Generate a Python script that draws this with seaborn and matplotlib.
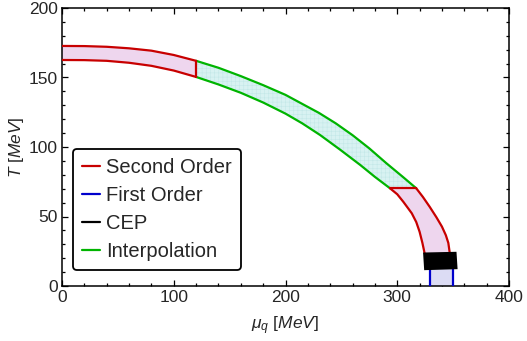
import numpy as np
import pandas as pd
import matplotlib
matplotlib.use('Agg')
import matplotlib.pyplot as plt
import seaborn as sns
from matplotlib.ticker import MultipleLocator

# boundary curves (mu_q, T) in MeV
so_upper_mu = [0, 20, 40, 60, 80, 100, 120]
so_upper_T = [172.7, 172.6, 172.1, 171.0, 169.3, 166.2, 162.0]
so_lower_mu = [0, 20, 40, 60, 80, 100, 120]
so_lower_T = [162.6, 162.5, 162.0, 160.6, 158.4, 155.0, 150.4]

ip_upper_mu = [120, 140, 160, 180, 200, 215, 230, 245, 260, 275, 290, 305, 317]
ip_upper_T = [162.0, 157.0, 151.0, 144.5, 137.5, 131.0, 124.5, 117.0, 108.5, 99.0, 88.5, 78.5, 70.3]
ip_lower_mu = [120, 140, 160, 180, 200, 215, 231, 249, 267, 280, 293.5]
ip_lower_T = [150.4, 145.0, 139.0, 132.0, 124.0, 117.0, 108.6, 98.0, 87.0, 78.5, 70.3]

so2_left_mu = [293.5, 300, 305.4, 310, 313, 317, 320, 322.5, 324.5]
so2_left_T = [70.3, 66.0, 60.6, 55.6, 52.3, 46.0, 39.0, 31.0, 23.5]
so2_right_mu = [317, 323, 329, 335, 340, 343.5, 345.7, 347]
so2_right_T = [70.3, 64.0, 57.0, 49.5, 42.7, 36.5, 31.0, 23.7]

cep_mu = [323.9, 352.3, 353.2, 324.8]
cep_T = [23.5, 24.0, 12.7, 12.0]

fo_mu = [329.4, 350.0]
fo_T = [0, 12.0]

red = '#c80000'
green = '#00b400'
blue = '#0000cc'
pink = '#eed6ee'
cyan = '#d8f2f2'
lav = '#dcdcf4'

sns.set_theme(style='ticks')
plt.rcParams['font.family'] = ['Liberation Sans', 'DejaVu Sans']
plt.rcParams['mathtext.fontset'] = 'custom'
plt.rcParams['mathtext.rm'] = 'Liberation Sans'
plt.rcParams['mathtext.it'] = 'Liberation Sans:italic'
plt.rcParams['hatch.linewidth'] = 0.4
plt.rcParams['hatch.color'] = '#bfe6e6'

fig = plt.figure(figsize=(5.27, 3.41), dpi=100)
ax = fig.add_axes([62 / 527, 1 - 286 / 341, 447 / 527, 278 / 341])

# fills
ax.fill(so_upper_mu + so_lower_mu[::-1], so_upper_T + so_lower_T[::-1],
        color=pink, lw=0, zorder=1)
ax.fill(ip_upper_mu + ip_lower_mu[::-1], ip_upper_T + ip_lower_T[::-1],
        facecolor=cyan, edgecolor='#c4e8e8', hatch='++++', lw=0, zorder=1)
ax.fill(so2_left_mu + so2_right_mu[::-1], so2_left_T + so2_right_T[::-1],
        color=pink, lw=0, zorder=1)
ax.fill([fo_mu[0], fo_mu[1], fo_mu[1], fo_mu[0]], [0, 0, fo_T[1], fo_T[1]],
        color=lav, lw=0, zorder=1)

lw = 1.6


def seg(x, y, c, z=3):
    sns.lineplot(x=x, y=y, sort=False, estimator=None, color=c, lw=lw, ax=ax, zorder=z)


# second order, low density part
seg(so_upper_mu, so_upper_T, red)
seg(so_lower_mu, so_lower_T, red)
seg([so_upper_mu[-1], so_lower_mu[-1]], [so_upper_T[-1], so_lower_T[-1]], red)
# interpolation
seg(ip_upper_mu, ip_upper_T, green, 2)
seg(ip_lower_mu, ip_lower_T, green, 2)
# second order, near CEP
seg(so2_left_mu, so2_left_T, red)
seg(so2_right_mu, so2_right_T, red)
seg([so2_left_mu[0], so2_right_mu[0]], [so2_left_T[0], so2_right_T[0]], red)
# first order
for m in fo_mu:
    seg([m, m], fo_T, blue)
# CEP box
ax.fill(cep_mu, cep_T, color='black', lw=1.2, zorder=4)

ax.set_xlim(0, 400)
ax.set_ylim(0, 200)
ax.xaxis.set_major_locator(MultipleLocator(100))
ax.xaxis.set_minor_locator(MultipleLocator(20))
ax.yaxis.set_major_locator(MultipleLocator(50))
ax.yaxis.set_minor_locator(MultipleLocator(10))
ax.tick_params(which='both', direction='in', top=True, right=True, labelsize=12.5,
               color='black', width=0.9, pad=3)
ax.tick_params(which='major', length=4.5)
ax.tick_params(which='minor', length=2.5)
for s in ax.spines.values():
    s.set_linewidth(1.1)
    s.set_color('black')
ax.set_xlabel(r'$\mu_q$ [$\mathit{MeV}$]', fontsize=12.5, labelpad=7)
ax.set_ylabel(r'$T$ [$\mathit{MeV}$]', fontsize=12.5, labelpad=2)

handles = [plt.Line2D([], [], color=c, lw=1.6) for c in [red, blue, 'black', green]]
labels = ['Second Order', 'First Order', 'CEP', 'Interpolation']
leg = ax.legend(handles, labels, loc='lower left', bbox_to_anchor=(0.024, 0.057),
                fontsize=14.5, handlelength=0.9, handletextpad=0.3, labelspacing=0.45,
                borderpad=0.45, frameon=True, fancybox=True, framealpha=1,
                borderaxespad=0)
leg.get_frame().set_edgecolor('black')
leg.get_frame().set_linewidth(1.3)

fig.savefig('out.png', dpi=100)
